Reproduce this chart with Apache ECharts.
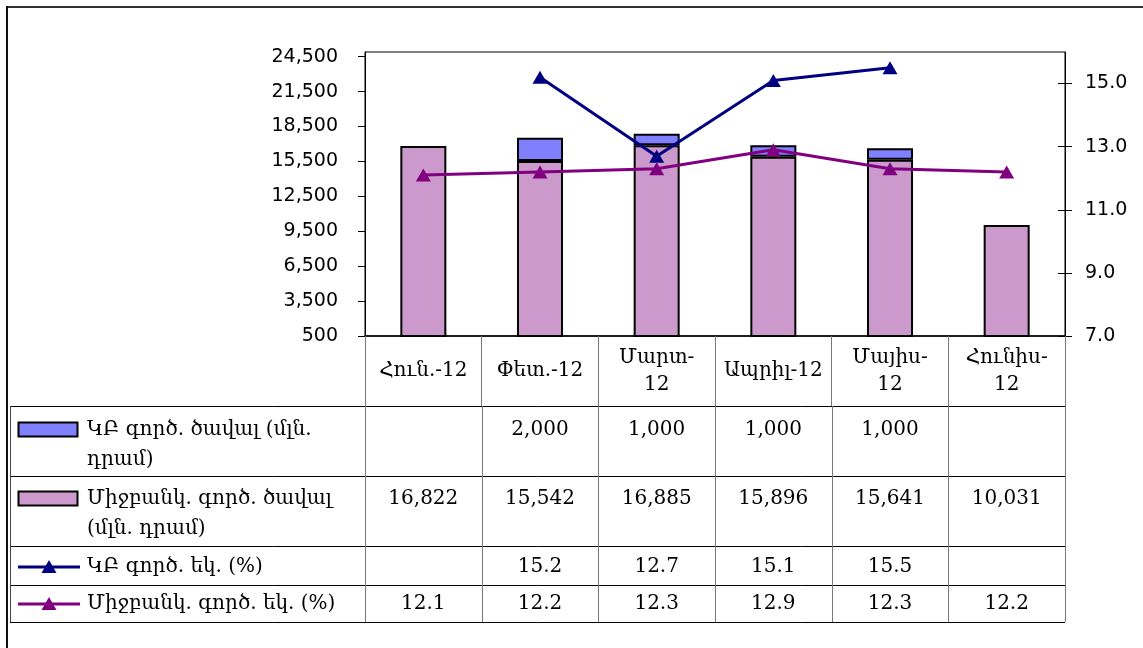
<!DOCTYPE html>
<html>
<head>
<meta charset="utf-8">
<script src="https://cdn.jsdelivr.net/npm/echarts@6/dist/echarts.min.js"></script>
<style>
  html, body { margin: 0; padding: 0; background: #fff; }
  #main { width: 1143px; height: 648px; }
</style>
</head>
<body>
<div id="main"></div>
<script>
    // data
    var months = ['Հուն.-12', 'Փետ.-12', 'Մարտ-\n12', 'Ապրիլ-12', 'Մայիս-\n12', 'Հունիս-\n12'];
    var cbVolume = [null, 2000, 1000, 1000, 1000, null];
    var ibVolume = [16822, 15542, 16885, 15896, 15641, 10031];
    var cbRate = [null, 15.2, 12.7, 15.1, 15.5, null];
    var ibRate = [12.1, 12.2, 12.3, 12.9, 12.3, 12.2];
    var leftTicks = [500, 3500, 6500, 9500, 12500, 15500, 18500, 21500, 24500];
    var rightTicks = [7, 9, 11, 13, 15];
    var names = ['ԿԲ գործ. ծավալ (մլն.\nդրամ)', 'Միջբանկ. գործ. ծավալ\n(մլն. դրամ)', 'ԿԲ գործ. եկ. (%)', 'Միջբանկ. գործ. եկ. (%)'];

    var colBlue = '#8080FF', colPink = '#CC99CC', colNavy = '#000080', colPurple = '#800080';

    // layout of plot + table
    var gridL = 365, gridR = 1065, gridT = 52, gridB = 336;
    var colW = (gridR - gridL) / months.length;
    var rowLines = [406, 476, 546, 585, 622];
    var rowText = [430, 499, 567, 604];
    var tableFont = 'DejaVu Serif';

    var chart = echarts.init(document.getElementById('main'));

    function fmtVol(v) { return v == null ? '' : v.toLocaleString('en-US'); }
    function fmtRate(v) { return v == null ? '' : v.toFixed(1); }

    var graphics = [];
    // outer frame (top + left)
    graphics.push({ type: 'line', shape: { x1: 6, y1: 7, x2: 1143, y2: 7 }, style: { stroke: '#333', lineWidth: 2 } });
    graphics.push({ type: 'line', shape: { x1: 7, y1: 6, x2: 7, y2: 648 }, style: { stroke: '#111', lineWidth: 2 } });

    // table horizontal lines
    rowLines.forEach(function (y) {
        graphics.push({ type: 'line', shape: { x1: 10, y1: y + 0.5, x2: gridR, y2: y + 0.5 }, style: { stroke: '#000', lineWidth: 1 } });
    });
    // table vertical lines
    graphics.push({ type: 'line', shape: { x1: 10.5, y1: rowLines[0], x2: 10.5, y2: rowLines[4] }, style: { stroke: '#444', lineWidth: 1 } });
    for (var i = 0; i <= months.length; i++) {
        var vx = Math.round(gridL + i * colW) + 0.5;
        graphics.push({ type: 'line', shape: { x1: vx, y1: rowLines[0], x2: vx, y2: rowLines[4] }, style: { stroke: '#777', lineWidth: 1 } });
    }

    // table values
    var rows = [cbVolume.map(fmtVol), ibVolume.map(fmtVol), cbRate.map(fmtRate), ibRate.map(fmtRate)];
    rows.forEach(function (vals, r) {
        vals.forEach(function (t, c) {
            if (!t) return;
            graphics.push({
                type: 'text',
                style: {
                    text: t, x: gridL + (c + 0.5) * colW, y: rowText[r],
                    align: 'center', verticalAlign: 'middle',
                    fontFamily: tableFont, fontSize: 20, fill: '#000'
                }
            });
        });
        // legend label
        graphics.push({
            type: 'text',
            style: {
                text: names[r], x: 87, y: rowText[r] - 15, lineHeight: 30,
                align: 'left', verticalAlign: 'top',
                fontFamily: tableFont, fontSize: 20, fill: '#000'
            }
        });
    });

    // legend keys
    [colBlue, colPink].forEach(function (c, r) {
        graphics.push({ type: 'rect', shape: { x: 18.5, y: rowText[r] - 7.5, width: 59, height: 14 }, style: { fill: c, stroke: '#000', lineWidth: 2 } });
    });
    [colNavy, colPurple].forEach(function (c, k) {
        var y = rowText[k + 2];
        graphics.push({ type: 'line', shape: { x1: 18, y1: y, x2: 80, y2: y }, style: { stroke: c, lineWidth: 3 } });
        graphics.push({ type: 'polygon', shape: { points: [[49, y - 7], [41.5, y + 6], [56.5, y + 6]] }, style: { fill: c } });
    });

    var option = {
        animation: false,
        backgroundColor: '#fff',
        grid: {
            left: gridL, right: 1143 - gridR, top: gridT, bottom: 648 - gridB,
            show: true, borderColor: '#000', borderWidth: 1, backgroundColor: 'transparent'
        },
        xAxis: {
            type: 'category',
            data: months,
            axisLine: { lineStyle: { color: '#000', width: 1.5 } },
            axisTick: { show: true, interval: 0, length: 70, lineStyle: { color: '#777' } },
            axisLabel: {
                interval: 0, margin: 35, verticalAlign: 'middle', lineHeight: 27,
                fontFamily: tableFont, fontSize: 20, color: '#000'
            },
            splitLine: { show: false }
        },
        yAxis: [
            {
                type: 'value', min: 500, max: 24900,
                axisLine: { show: true, lineStyle: { color: '#000' } },
                axisTick: { show: true, length: 7, customValues: leftTicks, lineStyle: { color: '#000' } },
                axisLabel: {
                    customValues: leftTicks, margin: 27,
                    formatter: function (v) { return v.toLocaleString('en-US'); },
                    fontFamily: 'DejaVu Sans', fontSize: 19, color: '#000'
                },
                splitLine: { show: false }
            },
            {
                type: 'value', min: 7, max: 16, position: 'right',
                axisLine: { show: true, lineStyle: { color: '#000' } },
                axisTick: { show: true, length: 7, customValues: rightTicks, lineStyle: { color: '#000' } },
                axisLabel: {
                    customValues: rightTicks, margin: 20,
                    formatter: function (v) { return v.toFixed(1); },
                    fontFamily: 'DejaVu Sans', fontSize: 19, color: '#000'
                },
                splitLine: { show: false }
            },
            {
                type: 'value', min: 7, max: 16, position: 'right',
                axisLine: { show: false },
                axisTick: { show: true, inside: true, length: 7, customValues: rightTicks, lineStyle: { color: '#000' } },
                axisLabel: { show: false },
                splitLine: { show: false }
            }
        ],
        series: [
            {
                name: names[1], type: 'bar', stack: 'vol', data: ibVolume, barWidth: 46,
                itemStyle: { color: colPink, borderColor: '#000', borderWidth: 2 }
            },
            {
                name: names[0], type: 'bar', stack: 'vol', data: cbVolume, barWidth: 46,
                itemStyle: { color: colBlue, borderColor: '#000', borderWidth: 2 }
            },
            {
                name: names[2], type: 'line', yAxisIndex: 1, data: cbRate,
                symbol: 'triangle', symbolSize: [15, 13], showAllSymbol: true,
                lineStyle: { color: colNavy, width: 3 }, itemStyle: { color: colNavy }
            },
            {
                name: names[3], type: 'line', yAxisIndex: 1, data: ibRate,
                symbol: 'triangle', symbolSize: [15, 13], showAllSymbol: true,
                lineStyle: { color: colPurple, width: 3 }, itemStyle: { color: colPurple }
            }
        ],
        graphic: graphics
    };

    chart.setOption(option);
</script>
</body>
</html>
